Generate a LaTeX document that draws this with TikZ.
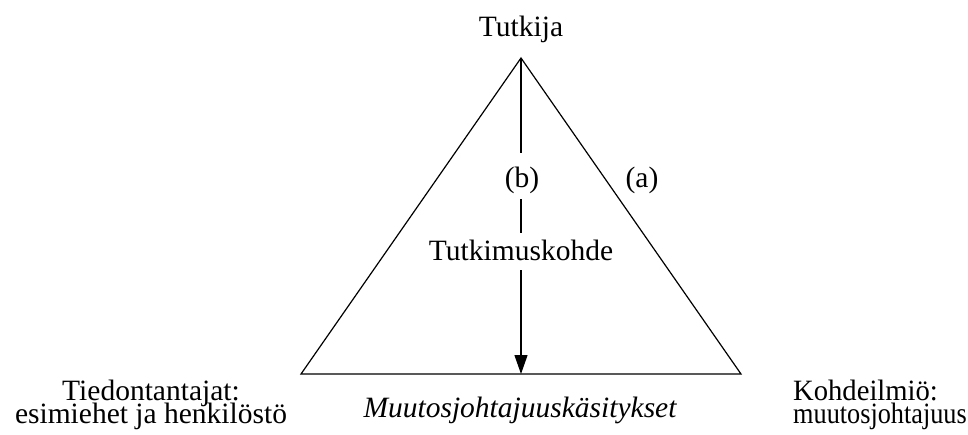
\documentclass[tikz,border=0pt]{standalone}
\usepackage{fontspec}
\setmainfont{Liberation Serif}
\usetikzlibrary{arrows.meta}
% label font: fixed baseline distance, lines may come close
\newcommand\lblfont{\fontsize{29.5}{23}\selectfont\setlength{\lineskiplimit}{-100pt}}
\begin{document}
\begin{tikzpicture}[x=1pt,y=-1pt,
  lbl/.style={inner sep=0pt, anchor=base, font=\lblfont},
  edge/.style={line width=1.2pt, line cap=butt}]
\useasboundingbox (0,0) rectangle (968,434);

% corners of the triangle and the foot of the vertical arrow
\coordinate (apex)  at (521,58);
\coordinate (left)  at (301,374);
\coordinate (right) at (741,374);
\coordinate (mid)   at (521,374);

\draw[edge, line join=miter] (apex) -- (left) -- (right) -- cycle;

% labels (a multi-line node's base is the baseline of its last line)
\node[lbl] (top) at (521,36) {Tutkija};
\node[lbl] (b)   at (522,187) {(b)};
\node[lbl] (a)   at (642,187) {(a)};
\node[lbl] (tk)  at (521,260) {Tutkimuskohde};
\node[lbl, align=center] (inf) at (151,423) {Tiedontantajat:\\esimiehet ja henkilöstö};
\node[lbl, align=left, anchor=base west] (phen) at (793,423)
  {\scalebox{0.97}[1]{Kohdeilmiö:}\\\scalebox{0.89}[1]{muutosjohtajuus}};
\node[lbl, font=\lblfont\itshape] (conc) at (520,417) {Muutosjohtajuuskäsitykset};

% ends of the vertical line around its labels
\coordinate (b1) at (521,153);
\coordinate (b2) at (521,199);
\coordinate (t1) at (521,233);
\coordinate (t2) at (521,270);

\draw[edge] (apex) -- (b1);
\draw[edge] (b2) -- (t1);
\draw[edge, -{Triangle[length=19pt,width=13pt]}] (t2) -- (mid);
\end{tikzpicture}
\end{document}
